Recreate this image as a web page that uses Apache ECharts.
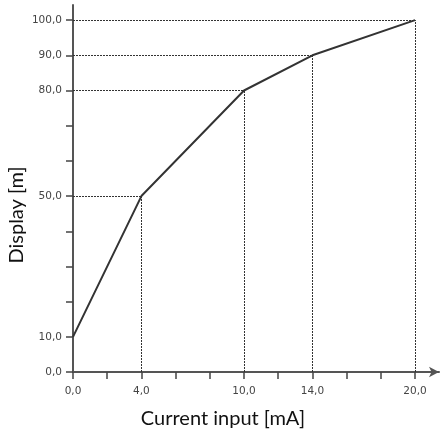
<!DOCTYPE html>
<html><head><meta charset="utf-8">
<script src="https://cdn.jsdelivr.net/npm/echarts@6/dist/echarts.min.js"></script>
<style>html,body{margin:0;padding:0;background:#fff}#c{width:443px;height:434px}</style>
</head><body><div id="c"></div>
<script>
const currentInput = [0, 4, 10, 14, 20];
const displayValues = [10, 50, 80, 90, 100];
const xTickValues = [0, 2, 4, 6, 8, 10, 12, 14, 16, 18, 20];
const xLabelValues = [0, 4, 10, 14, 20];
const yTickValues = [0, 10, 20, 30, 40, 50, 60, 70, 80, 90, 100];
const yLabelValues = [0, 10, 50, 80, 90, 100];
const guidePoints = [[4, 50], [10, 80], [14, 90], [20, 100]];

const fmt = v => Number(v).toFixed(1).replace('.', ',');
const guideLines = [];
guidePoints.forEach(p => {
  guideLines.push([{coord: [0, p[1]]}, {coord: [p[0], p[1]]}]);
  guideLines.push([{coord: [p[0], 0]}, {coord: [p[0], p[1]]}]);
});

const chart = echarts.init(document.getElementById('c'), null, {renderer: 'canvas'});
chart.setOption({
  animation: false,
  grid: {left: 73, right: 4, top: 5, bottom: 62, containLabel: false, outerBoundsMode: 'none'},
  xAxis: {
    type: 'value', min: 0, max: 21.4,
    name: 'Current input [mA]', nameLocation: 'middle', nameGap: 37,
    nameTextStyle: {fontFamily: 'Lato', fontSize: 20, color: '#111', padding: [0, 66, 0, 0]},
    splitLine: {show: false},
    axisLine: {show: true, lineStyle: {color: '#555', width: 2}, symbol: ['none', 'arrow'], symbolSize: [8, 10]},
    axisTick: {show: true, inside: false, length: 7, customValues: xTickValues, lineStyle: {color: '#444', width: 1.5}},
    axisLabel: {customValues: xLabelValues, formatter: fmt, fontFamily: 'DejaVu Sans', fontSize: 10.5, color: '#444', margin: 14}
  },
  yAxis: {
    type: 'value', min: 0, max: 104.3,
    name: 'Display [m]', nameLocation: 'middle', nameGap: 46, nameMoveOverlap: false,
    nameTextStyle: {fontFamily: 'Lato', fontSize: 20, color: '#111', padding: [0, 53, 0, 0]},
    splitLine: {show: false},
    axisLine: {show: true, lineStyle: {color: '#555', width: 2}},
    axisTick: {show: true, inside: false, length: 7, customValues: yTickValues, lineStyle: {color: '#444', width: 1.5}},
    axisLabel: {customValues: yLabelValues, formatter: fmt, fontFamily: 'DejaVu Sans', fontSize: 10.5, color: '#444', margin: 11}
  },
  series: [{
    type: 'line',
    data: currentInput.map((x, i) => [x, displayValues[i]]),
    symbol: 'none',
    lineStyle: {color: '#333', width: 2},
    z: 5,
    markLine: {
      silent: true, symbol: 'none', label: {show: false},
      lineStyle: {color: '#333', width: 1, type: [2, 1]},
      data: guideLines
    }
  }]
});
</script></body></html>
